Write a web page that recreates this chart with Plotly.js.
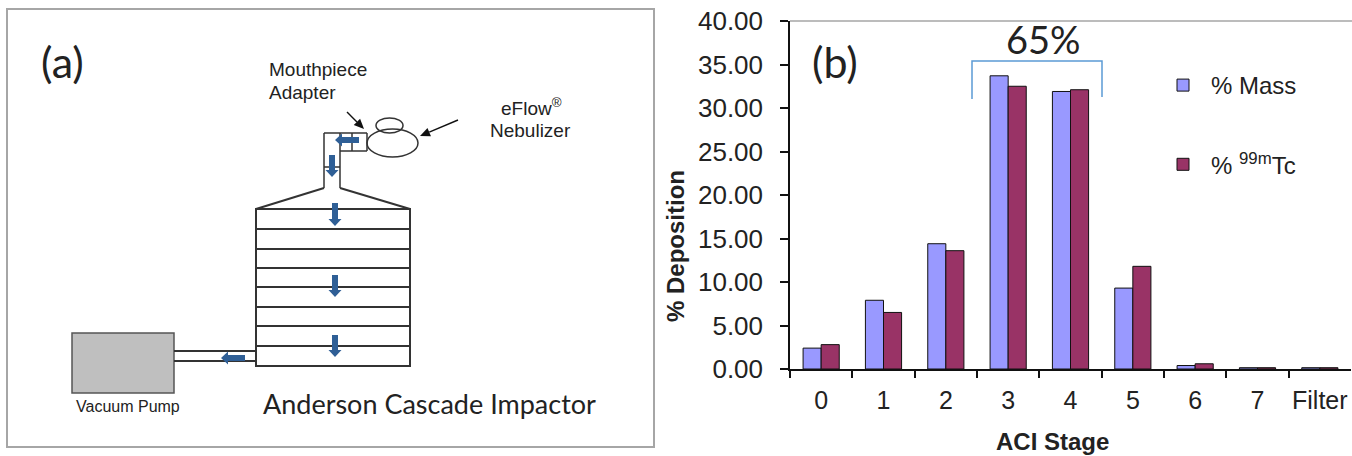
<!DOCTYPE html>
<html>
<head>
<meta charset="utf-8">
<script src="https://cdn.plot.ly/plotly-3.0.1.min.js"></script>
<style>html,body{margin:0;padding:0;background:#fff}#chart{width:1352px;height:456px}</style>
</head>
<body>
<div id="chart"></div>
<script>
const stages = ['0','1','2','3','4','5','6','7','Filter'];
const massPct = [2.4, 7.9, 14.4, 33.7, 31.9, 9.3, 0.4, 0.15, 0.15];
const tcPct = [2.8, 6.5, 13.6, 32.5, 32.1, 11.8, 0.6, 0.15, 0.15];
const massName = '% Mass';
const tcName = '% <sup>99m</sup>Tc';

const W = 1352, H = 456;
const sans = '"Liberation Sans", Arial, sans-serif';
const ink = '#222222';
const flow = '#2f5f96';

function seg(x0, y0, x1, y1, color, width) {
  return {type:'line', xref:'x2', yref:'y2', x0, y0, x1, y1, line:{color:color||'#333333', width:width||2}};
}
function box(x0, y0, x1, y1, fill, color, width) {
  return {type:'rect', xref:'x2', yref:'y2', x0, y0, x1, y1, fillcolor:fill||'rgba(0,0,0,0)', line:{color:color||'#333333', width:width||2}};
}
function oval(x0, y0, x1, y1) {
  return {type:'circle', xref:'x2', yref:'y2', x0, y0, x1, y1, fillcolor:'rgba(0,0,0,0)', line:{color:'#333333', width:1.5}};
}
function downArrow(x, y0, y1) {
  const p = `M${x-3},${y0}L${x+3},${y0}L${x+3},${y1-7}L${x+6.5},${y1-7}L${x},${y1}L${x-6.5},${y1-7}L${x-3},${y1-7}Z`;
  return {type:'path', xref:'x2', yref:'y2', path:p, fillcolor:flow, line:{color:flow, width:0}};
}
function leftArrow(y, x0, x1) {
  const p = `M${x0},${y-3}L${x0},${y+3}L${x1+7},${y+3}L${x1+7},${y+6.5}L${x1},${y}L${x1+7},${y-6.5}L${x1+7},${y-3}Z`;
  return {type:'path', xref:'x2', yref:'y2', path:p, fillcolor:flow, line:{color:flow, width:0}};
}
function pointer(x0, y0, x1, y1) {
  const dx = x1-x0, dy = y1-y0, n = Math.hypot(dx,dy), ux = dx/n, uy = dy/n, L = 10, B = 4.5;
  const bx = x1-ux*L, by = y1-uy*L;
  const head = `M${x1},${y1}L${bx-uy*B},${by+ux*B}L${bx+uy*B},${by-ux*B}Z`;
  return [seg(x0,y0,bx,by,'#111111',1.4),
          {type:'path', xref:'x2', yref:'y2', path:head, fillcolor:'#111111', line:{color:'#111111', width:0}}];
}

const shapes = [
  box(7, 9, 654, 447, '#ffffff', '#a6a6a6', 2),
  // impactor stack
  box(256, 209, 410, 366),
  seg(256,229,410,229), seg(256,249,410,249), seg(256,268,410,268),
  seg(256,287,410,287), seg(256,307,410,307), seg(256,326,410,326), seg(256,346,410,346),
  // cone and inlet
  seg(256,209,324,188), seg(410,209,340,188),
  seg(324,188,324,133,'#333333',1.5), seg(340,188,340,133,'#333333',1.5),
  seg(324,133,367,133,'#333333',1.5), seg(324,167,340,167,'#333333',1.5),
  seg(340,151,367,151,'#333333',1.5), seg(352,133,352,151,'#333333',1.5), seg(367,133,367,151,'#333333',1.5),
  // nebulizer
  oval(367,129,418,157), oval(376,118,403,133),
  // pump and pipe
  box(72, 333, 174, 393, '#bfbfbf', '#555555', 1.5),
  seg(174,351,256,351), seg(174,361,256,361),
  // flow arrows
  downArrow(335,203,226), downArrow(335,275,297), downArrow(335,335,357), downArrow(332,155,177),
  leftArrow(358,245,221), leftArrow(140,359,335),
  ...pointer(347,112,364,129),
  ...pointer(458,120,420,136),
  // plot frame top and 65% bracket
  seg(790,21,1352,21,'#a6a6a6',1.5),
  {type:'path', xref:'x2', yref:'y2', path:'M972,99L972,61L1102,61L1102,97', line:{color:'#5b9bd5', width:1.5}}
];

function label(text, x, y, size, family, anchor, weight, angle) {
  return {xref:'x2', yref:'y2', x, y, text, showarrow:false, xanchor:anchor||'left', yanchor:'middle',
          textangle:angle||0, font:{family:family||sans, size, color:ink, weight:weight||'normal'}};
}
const annotations = [
  label('(a)', 39, 61, 43, 'Lato'),
  label('(b)', 810, 61, 43, 'Lato'),
  label('65%', 1043, 39, 38, 'Lato', 'center'),
  label('Anderson Cascade Impactor', 261, 403, 27, 'Lato'),
  label('Vacuum Pump', 74, 406, 16),
  label('Mouthpiece', 267, 69, 19),
  label('Adapter', 267, 92, 19),
  label('eFlow<sup>®</sup>', 499, 107, 19),
  label('Nebulizer', 488, 130, 19),
  label('ACI Stage', 1052, 441, 24, sans, 'center', 'bold'),
  label('% Deposition', 675, 246, 24, sans, 'center', 'bold', -90)
];

const traces = [
  {type:'bar', name:massName, x:stages, y:massPct, legendgroup:'a',
   marker:{color:'#9999ff', line:{color:'#111111', width:1}}},
  {type:'bar', name:tcName, x:stages, y:tcPct, legendgroup:'b',
   marker:{color:'#993366', line:{color:'#111111', width:1}}},
  {type:'scatter', x:[0], y:[-10], mode:'none', xaxis:'x2', yaxis:'y2', showlegend:false, hoverinfo:'skip'}
];

const layout = {
  width:W, height:H,
  margin:{l:0, r:0, t:0, b:0},
  paper_bgcolor:'#ffffff', plot_bgcolor:'rgba(0,0,0,0)',
  barmode:'group', bargap:0.42, bargroupgap:0,
  font:{family:sans, color:ink},
  xaxis:{domain:[790/W, 1351/W], anchor:'y', type:'category', tickson:'boundaries', tickangle:0,
         ticks:'outside', ticklen:7, tickcolor:'#111111', tickwidth:1.5, ticklabelstandoff:8,
         showline:true, linecolor:'#111111', linewidth:1.5, showgrid:false, zeroline:false,
         tickfont:{size:25, family:sans, color:ink}},
  yaxis:{domain:[(H-369)/H, (H-21)/H], anchor:'x', range:[0,40], dtick:5, tickformat:'.2f',
         ticks:'outside', ticklen:8, tickcolor:'#111111', tickwidth:1.5, ticklabelstandoff:12,
         showline:true, linecolor:'#111111', linewidth:1.5, showgrid:false, zeroline:false,
         tickfont:{size:26, family:sans, color:ink}},
  xaxis2:{domain:[0,1], range:[0,W], anchor:'y2', visible:false, fixedrange:true},
  yaxis2:{domain:[0,1], range:[H,0], anchor:'x2', visible:false, fixedrange:true},
  legend:{x:1155/W, y:(H-63)/H, xanchor:'left', yanchor:'top', bgcolor:'rgba(0,0,0,0)',
          font:{size:24, family:sans, color:ink}, itemwidth:46, tracegroupgap:45, traceorder:'grouped'},
  shapes, annotations
};
Plotly.newPlot('chart', traces, layout, {displayModeBar:false, responsive:false});
</script>
</body>
</html>
